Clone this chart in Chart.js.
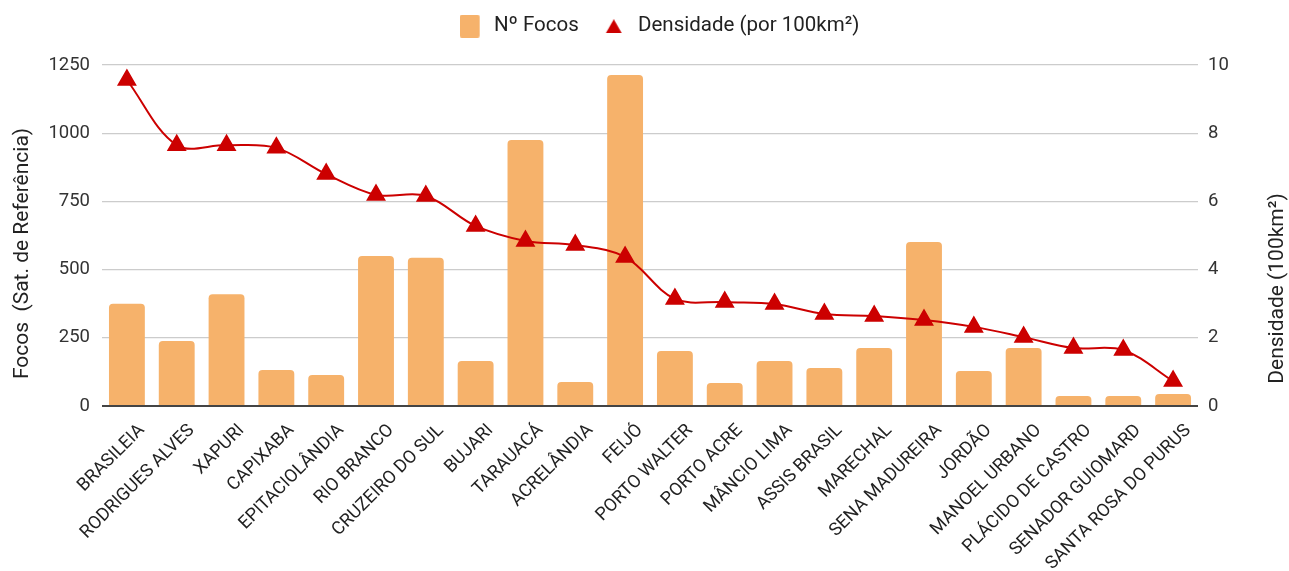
<!DOCTYPE html>
<html>
<head>
<meta charset="utf-8">
<script src="https://cdn.jsdelivr.net/npm/chart.js@4.4.1/dist/chart.umd.min.js"></script>
<style>
html,body{margin:0;padding:0;background:#fff;}
#wrap{width:1289px;height:571px;position:relative;}
</style>
</head>
<body>
<div id="wrap"><canvas id="c" width="1289" height="571"></canvas></div>
<script>
const categories = ["BRASILEIA","RODRIGUES ALVES","XAPURI","CAPIXABA","EPITACIOLÂNDIA","RIO BRANCO","CRUZEIRO DO SUL","BUJARI","TARAUACÁ","ACRELÂNDIA","FEIJÓ","PORTO WALTER","PORTO ACRE","MÂNCIO LIMA","ASSIS BRASIL","MARECHAL","SENA MADUREIRA","JORDÃO","MANOEL URBANO","PLÁCIDO DE CASTRO","SENADOR GUIOMARD","SANTA ROSA DO PURUS"];
const focos = [375,238,410,132,114,550,543,165,975,88,1213,202,84,165,139,213,601,128,213,37,37,44];
const densidade = [9.56,7.65,7.65,7.57,6.8,6.19,6.16,5.28,4.84,4.72,4.37,3.14,3.05,2.99,2.70,2.64,2.52,2.32,2.02,1.70,1.64,0.73];
const leftTicks = [0,250,500,750,1000,1250];
const rightTicks = [0,2,4,6,8,10];
const leftTitle = 'Focos  (Sat. de Referência)';
const rightTitle = 'Densidade (100km²)';

const BAR = '#f6b26b', LINE = '#cc0000';

function barIcon(){
  const c=document.createElement('canvas'); c.width=24; c.height=23;
  const x=c.getContext('2d'); x.fillStyle=BAR;
  x.beginPath(); x.roundRect(0,0,20,23,2); x.fill(); return c;
}
function triIcon(){
  const c=document.createElement('canvas'); c.width=24; c.height=14;
  const x=c.getContext('2d'); x.fillStyle=LINE;
  x.beginPath(); x.moveTo(10,0); x.lineTo(18,14); x.lineTo(2,14); x.closePath(); x.fill(); return c;
}

const legendHeight = {
  id: 'legendHeight',
  beforeInit(chart){
    const orig = chart.legend.fit;
    chart.legend.fit = function(){ orig.call(this); this.height = 74; };
  }
};

const axisTitles = {
  id: 'axisTitles',
  afterDraw(chart){
    const ctx = chart.ctx, a = chart.chartArea;
    const mid = (a.top + a.bottom) / 2;
    ctx.save();
    ctx.fillStyle = '#222';
    ctx.font = '21px Roboto';
    ctx.textAlign = 'center';
    ctx.textBaseline = 'middle';
    ctx.save(); ctx.translate(23, mid + 18); ctx.rotate(-Math.PI/2); ctx.fillText(leftTitle, 0, 0); ctx.restore();
    ctx.save(); ctx.translate(chart.scales.y1.right - 11, mid + 53); ctx.rotate(-Math.PI/2); ctx.fillText(rightTitle, 0, 0); ctx.restore();
    ctx.restore();
  }
};

new Chart(document.getElementById('c'), {
  data: {
    labels: categories,
    datasets: [
      {
        type: 'line', label: 'Densidade (por 100km²)', data: densidade, yAxisID: 'y1',
        borderColor: LINE, backgroundColor: LINE, borderWidth: 2,
        pointStyle: 'triangle', pointRadius: 9.5, pointHoverRadius: 9.5,
        tension: 0.35, order: 0
      },
      {
        type: 'bar', label: 'Nº Focos', data: focos, yAxisID: 'y',
        backgroundColor: BAR, borderRadius: {topLeft:4, topRight:4}, borderSkipped: 'bottom',
        categoryPercentage: 1.0, barPercentage: 0.72, order: 1
      }
    ]
  },
  plugins: [legendHeight, axisTitles],
  options: {
    responsive: false, animation: false,
    layout: { padding: { top: -9, left: 30, right: 0, bottom: 0 } },
    plugins: {
      tooltip: { enabled: false },
      legend: {
        reverse: true,
        labels: {
          usePointStyle: true, boxWidth: 24, boxHeight: 20, pointStyleWidth: 24, padding: 25,
          color: '#222', font: { family: 'Roboto', size: 20.5 },
          generateLabels(chart){
            const items = Chart.defaults.plugins.legend.labels.generateLabels(chart);
            items.forEach(it => { it.pointStyle = it.datasetIndex === 1 ? barIcon() : triIcon(); });
            return items;
          }
        }
      }
    },
    scales: {
      x: {
        afterFit(ax){ ax.height = 165; },
        grid: { display: false },
        border: { display: false },
        ticks: { color: '#222', font: { family: 'Roboto', size: 18 }, maxRotation: 45, minRotation: 45, autoSkip: false, padding: 6, labelOffset: 15 }
      },
      y: {
        position: 'left', min: 0, max: 1250,
        afterFit(ax){ ax.width = 72; },
        afterBuildTicks(ax){ ax.ticks = leftTicks.map(v => ({value: v})); },
        grid: { color: ctx => ctx.tick && ctx.tick.value === 0 ? '#444' : '#cccccc', lineWidth: ctx => ctx.tick && ctx.tick.value === 0 ? 2 : 1.2, drawTicks: false },
        border: { display: false },
        ticks: { color: '#333', font: { family: 'Roboto', size: 18.5 }, padding: 12, callback: v => String(v) }
      },
      y1: {
        position: 'right', min: 0, max: 10,
        afterFit(ax){ ax.width = 91; },
        afterBuildTicks(ax){ ax.ticks = rightTicks.map(v => ({value: v})); },
        grid: { display: false, drawTicks: false },
        border: { display: false },
        ticks: { color: '#333', font: { family: 'Roboto', size: 18.5 }, padding: 10, callback: v => String(v) }
      }
    }
  }
});
</script>
</body>
</html>
